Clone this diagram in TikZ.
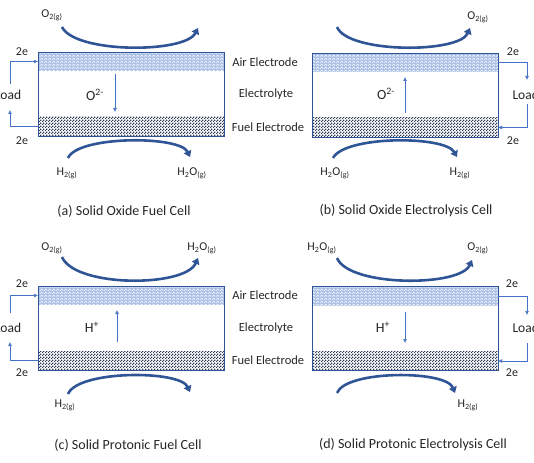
\documentclass[tikz,border=0pt]{standalone}
\usepackage{fontspec}
\setmainfont{Carlito}
\usetikzlibrary{patterns.meta,arrows.meta}

\definecolor{wireblue}{HTML}{4472C4}
\definecolor{frameblue}{HTML}{2F5597}
\definecolor{airblue}{HTML}{A9BFE6}
\definecolor{fuelnavy}{HTML}{2E3B55}

\newcommand{\gas}[2]{#1\textsubscript{#2}}

% fine patterns for the two electrodes
\tikzdeclarepattern{
  name=finechecker,
  type=uncolored,
  bottom left={(0pt,0pt)},
  top right={(2.6pt,2.6pt)},
  tile size={(2.6pt,2.6pt)},
  code={\fill (0pt,0pt) rectangle (1.3pt,1.3pt);
        \fill (1.3pt,1.3pt) rectangle (2.6pt,2.6pt);}
}
\tikzdeclarepattern{
  name=zigzag,
  type=uncolored,
  bottom left={(0pt,0pt)},
  top right={(4pt,3pt)},
  tile size={(4pt,3pt)},
  code={\draw[line width=0.55pt] (0pt,0.4pt) -- (2pt,2.4pt) -- (4pt,0.4pt);}
}

\begin{document}
\begin{tikzpicture}[x=1pt, y=-1pt,
  layer/.style={minimum width=186pt, minimum height=19pt, inner sep=0pt, outer sep=0pt},
  air/.style={layer, preaction={fill=airblue}, pattern=zigzag, pattern color=white},
  fuel/.style={layer, preaction={fill=white}, pattern=finechecker, pattern color=fuelnavy},
  cell/.style={draw=frameblue, line width=0.8pt},
  wire/.style={draw=wireblue, line width=0.7pt, -{Latex[length=4pt,width=4pt]}},
  flow/.style={draw=frameblue, line width=2.6pt, -{Triangle[length=6pt,width=8pt]}},
  tag/.style={font=\fontsize{12.5}{14}\selectfont, text=black!85},
  two/.style={font=\fontsize{12}{14}\selectfont, text=black!85},
  load/.style={font=\fontsize{13.5}{16}\selectfont, text=black!85},
  chem/.style={font=\fontsize{12}{14}\selectfont, text=black!85},
  ion/.style={font=\fontsize{14}{16}\selectfont, text=black!85},
  caption/.style={font=\fontsize{14}{16}\selectfont, text=black!85}
]
\useasboundingbox (0,0) rectangle (534,462);

% (a) solid oxide fuel cell
\node[air] (aAir) at (131,61.5) {};
\node[fuel] (aFuel) at (131,126.5) {};
\draw[cell] (aAir.north west) rectangle (aFuel.south east);
\coordinate (aLoadTop) at (10,84);
\coordinate (aLoadBot) at (10,110);
\draw[wire] (aLoadTop) |- (aAir.west);
\draw[wire] (aFuel.west) -| (aLoadBot);
\node[load] (aLoad) at (8,95) {Load};
\node[two] (aTwoTop) at (22,52) {2e};
\node[two] (aTwoBot) at (22,141) {2e};
\coordinate (aIonTop) at (115,74);
\coordinate (aIonBot) at (115,112);
\draw[wire] (aIonTop) -- (aIonBot);
\node[ion] (aIon) at (95,95) {O\textsuperscript{2-}};
\node[chem] (aInTop) at (52,15) {\gas{O}{2(g)}};
\coordinate (aFlowTopS) at (62,27);
\coordinate (aFlowTopE) at (198,28);
\draw[flow] (aFlowTopS) .. controls (75,53.5) and (185,53.5) .. (aFlowTopE);
\node[chem] (aInBot) at (67,173) {\gas{H}{2(g)}};
\node[chem] (aOutBot) at (192,173) {\gas{H}{2}O\textsubscript{(g)}};
\coordinate (aFlowBotS) at (68,158);
\coordinate (aFlowBotE) at (190,157);
\draw[flow] (aFlowBotS) .. controls (78,135.5) and (180,135.5) .. (aFlowBotE);
\node[caption] (aCap) at (124,211) {(a) Solid Oxide Fuel Cell};

% (b) solid oxide electrolysis cell
\node[air] (bAir) at (405,62.5) {};
\node[fuel] (bFuel) at (405,127.5) {};
\draw[cell] (bAir.north west) rectangle (bFuel.south east);
\coordinate (bLoadTop) at (527,80);
\coordinate (bLoadBot) at (527,104);
\draw[wire] (bAir.east) -| (bLoadTop);
\draw[wire] (bLoadBot) |- (bFuel.east);
\node[load, anchor=west] (bLoad) at (509,95) {Load};
\node[two] (bTwoTop) at (513,52) {2e};
\node[two] (bTwoBot) at (513,141) {2e};
\coordinate (bIonBot) at (405,113);
\coordinate (bIonTop) at (405,77);
\draw[wire] (bIonBot) -- (bIonTop);
\node[ion] (bIon) at (386,94) {O\textsuperscript{2-}};
\node[chem] (bOutTop) at (478,17) {\gas{O}{2(g)}};
\coordinate (bFlowTopS) at (337,27);
\coordinate (bFlowTopE) at (470,28);
\draw[flow] (bFlowTopS) .. controls (348,53.5) and (459,53.5) .. (bFlowTopE);
\node[chem] (bInBot) at (335,173) {\gas{H}{2}O\textsubscript{(g)}};
\node[chem] (bOutBot) at (460,173) {\gas{H}{2(g)}};
\coordinate (bFlowBotS) at (333,158);
\coordinate (bFlowBotE) at (457,157);
\draw[flow] (bFlowBotS) .. controls (345,135.5) and (445,135.5) .. (bFlowBotE);
\node[caption] (bCap) at (406,211) {(b) Solid Oxide Electrolysis Cell};

% layer names, top row
\node[tag] (topAirName) at (265,62) {Air Electrode};
\node[tag] (topEltName) at (266,94) {Electrolyte};
\node[tag] (topFuelName) at (268,127) {Fuel Electrode};

% (c) solid protonic fuel cell
\node[air] (cAir) at (131,295.5) {};
\node[fuel] (cFuel) at (131,360.5) {};
\draw[cell] (cAir.north west) rectangle (cFuel.south east);
\coordinate (cLoadTop) at (10,313);
\coordinate (cLoadBot) at (10,342);
\draw[wire] (cLoadTop) |- (cAir.west);
\draw[wire] (cFuel.west) -| (cLoadBot);
\node[load] (cLoad) at (8,328) {Load};
\node[two] (cTwoTop) at (22,284) {2e};
\node[two] (cTwoBot) at (22,373) {2e};
\coordinate (cIonBot) at (117,342);
\coordinate (cIonTop) at (117,310);
\draw[wire] (cIonBot) -- (cIonTop);
\node[ion] (cIon) at (92,327) {H\textsuperscript{+}};
\node[chem] (cInTop) at (52,248) {\gas{O}{2(g)}};
\node[chem] (cOutTop) at (202,248) {\gas{H}{2}O\textsubscript{(g)}};
\coordinate (cFlowTopS) at (62,257);
\coordinate (cFlowTopE) at (198,258);
\draw[flow] (cFlowTopS) .. controls (75,287.5) and (185,287.5) .. (cFlowTopE);
\node[chem] (cInBot) at (65,405) {\gas{H}{2(g)}};
\coordinate (cFlowBotS) at (68,394);
\coordinate (cFlowBotE) at (190,392);
\draw[flow] (cFlowBotS) .. controls (78,370) and (180,370) .. (cFlowBotE);
\node[caption] (cCap) at (128,445) {(c) Solid Protonic Fuel Cell};

% (d) solid protonic electrolysis cell
\node[air] (dAir) at (405,296) {};
\node[fuel] (dFuel) at (405,361) {};
\draw[cell] (dAir.north west) rectangle (dFuel.south east);
\coordinate (dLoadTop) at (527,315);
\coordinate (dLoadBot) at (527,343);
\draw[wire] (dAir.east) -| (dLoadTop);
\draw[wire] (dLoadBot) |- (dFuel.east);
\node[load, anchor=west] (dLoad) at (509,328) {Load};
\node[two] (dTwoTop) at (512,284) {2e};
\node[two] (dTwoBot) at (512,373) {2e};
\coordinate (dIonTop) at (405,312);
\coordinate (dIonBot) at (405,343);
\draw[wire] (dIonTop) -- (dIonBot);
\node[ion] (dIon) at (383,327) {H\textsuperscript{+}};
\node[chem] (dInTop) at (322,248) {\gas{H}{2}O\textsubscript{(g)}};
\node[chem] (dOutTop) at (478,248) {\gas{O}{2(g)}};
\coordinate (dFlowTopS) at (337,258);
\coordinate (dFlowTopE) at (472,260);
\draw[flow] (dFlowTopS) .. controls (349,287) and (460,287) .. (dFlowTopE);
\node[chem] (dOutBot) at (468,405) {\gas{H}{2(g)}};
\coordinate (dFlowBotS) at (337,393);
\coordinate (dFlowBotE) at (455,393);
\draw[flow] (dFlowBotS) .. controls (346,370) and (446,370) .. (dFlowBotE);
\node[caption] (dCap) at (413,445) {(d) Solid Protonic Electrolysis Cell};

% layer names, bottom row
\node[tag] (botAirName) at (265,295) {Air Electrode};
\node[tag] (botEltName) at (266,328) {Electrolyte};
\node[tag] (botFuelName) at (268,360) {Fuel Electrode};
\end{tikzpicture}
\end{document}
